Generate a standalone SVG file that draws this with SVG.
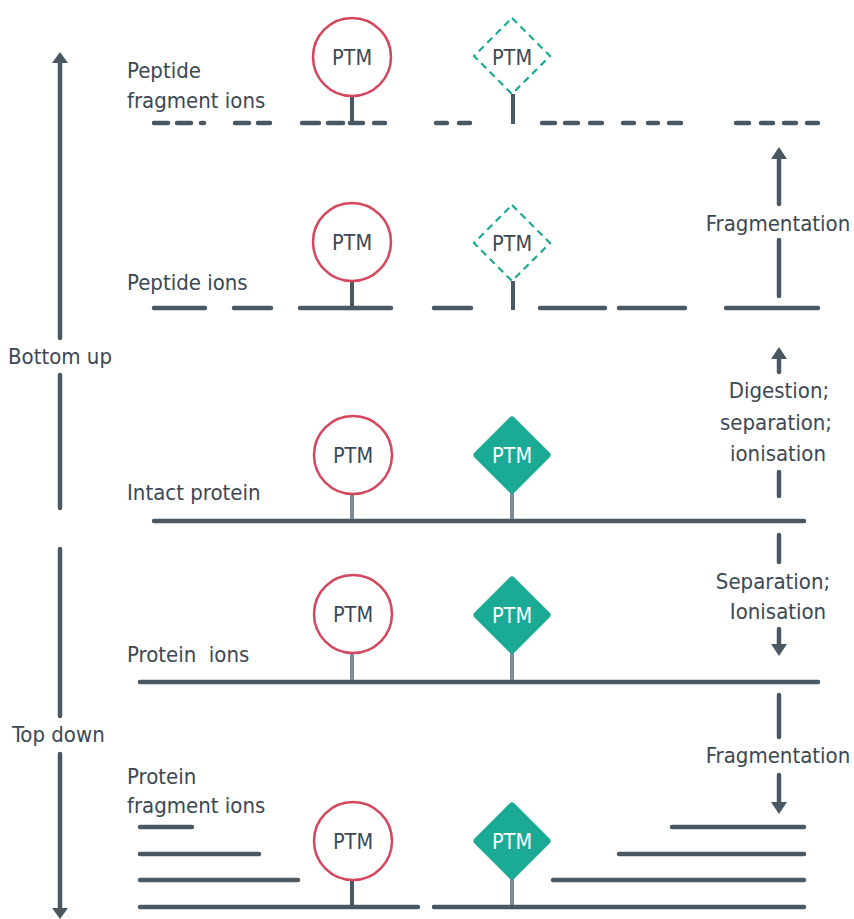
<svg xmlns="http://www.w3.org/2000/svg" width="854" height="919" viewBox="0 0 854 919">
<style>
text{font-family:"DejaVu Sans Condensed","DejaVu Sans",sans-serif;font-stretch:condensed;font-size:22px;fill:#3b4853}
.lbl{text-anchor:middle}
.ln{stroke:#4a5864;stroke-width:4.5;stroke-linecap:round;fill:none}
.stem{stroke:#4a5864;stroke-width:4;fill:none}
.lstem{stroke:#7e8c9a;stroke-width:4;fill:none}
.circ{fill:#fff;stroke:#d6465c;stroke-width:2.5}
.dia{fill:#1aaa96;stroke:#1aaa96;stroke-width:7;stroke-linejoin:round}
.ddia{fill:#fff;stroke:#1aaa96;stroke-width:2.2;stroke-dasharray:7 5}
.ptm{text-anchor:middle;font-size:21.5px}
.wptm{text-anchor:middle;fill:#fff;font-size:21.5px}
.ah{fill:#4a5864}
</style>

<g id="axis">
<line class="ln" x1="60" y1="60" x2="60" y2="338"/>
<polygon class="ah" points="60,52 68,63 52,63"/>
<line class="ln" x1="60" y1="375" x2="60" y2="508"/>
<text x="8" y="364">Bottom up</text>
<line class="ln" x1="60" y1="549" x2="60" y2="716"/>
<text x="12" y="742">Top down</text>
<line class="ln" x1="60" y1="754" x2="60" y2="910"/>
<polygon class="ah" points="60,919 68,908 52,908"/>
</g>

<g id="connectors">
<line class="ln" x1="779" y1="158" x2="779" y2="204"/>
<polygon class="ah" points="779,147 787,159 771,159"/>
<line class="ln" x1="779" y1="240" x2="779" y2="296"/>
<line class="ln" x1="779" y1="357" x2="779" y2="372"/>
<polygon class="ah" points="779,347 787,359 771,359"/>
<line class="ln" x1="779" y1="472" x2="779" y2="496"/>
<line class="ln" x1="779" y1="535" x2="779" y2="562"/>
<line class="ln" x1="779" y1="629" x2="779" y2="645"/>
<polygon class="ah" points="779,656 787,644 771,644"/>
<line class="ln" x1="779" y1="695" x2="779" y2="737"/>
<line class="ln" x1="779" y1="775" x2="779" y2="803"/>
<polygon class="ah" points="779,814 787,802 771,802"/>
</g>

<g id="step-labels">
<text class="lbl" x="778" y="231">Fragmentation</text>
<text class="lbl" x="779" y="398">Digestion;</text>
<text class="lbl" x="776" y="430">separation;</text>
<text class="lbl" x="778" y="461">ionisation</text>
<text class="lbl" x="773" y="589">Separation;</text>
<text class="lbl" x="778" y="619">Ionisation</text>
<text class="lbl" x="778" y="763">Fragmentation</text>
</g>

<g id="peptide-fragment-ions">
<text x="127" y="78">Peptide</text>
<text x="127" y="108">fragment ions</text>
<line class="stem" x1="352" y1="96" x2="352" y2="123"/>
<line class="stem" x1="513" y1="94" x2="513" y2="124"/>
<path class="ln" d="M154 123H168M177 123H191M201 123H204M235 123H249M258 123H270M302 123H319M328 123H343M350 123H363M374 123H385M436 123H447M459 123H470M542 123H555M565 123H578M590 123H602M623 123H634M648 123H658M669 123H681M736 123H749M761 123H773M784 123H796M807 123H818"/>
<circle class="circ" cx="352" cy="57" r="39"/>
<text class="ptm" x="352" y="65">PTM</text>
<polygon class="ddia" points="512,18 550,56 512,94 474,56"/>
<text class="ptm" x="512" y="65">PTM</text>
</g>

<g id="peptide-ions">
<text x="127" y="290">Peptide ions</text>
<line class="stem" x1="352" y1="281" x2="352" y2="308"/>
<line class="stem" x1="513" y1="281" x2="513" y2="310"/>
<path class="ln" d="M154 308H205M234 308H271M300 308H391M434 308H471M540 308H605M619 308H685M726 308H818"/>
<circle class="circ" cx="352" cy="242" r="39"/>
<text class="ptm" x="352" y="250">PTM</text>
<polygon class="ddia" points="512,205 550,243 512,281 474,243"/>
<text class="ptm" x="512" y="251">PTM</text>
</g>

<g id="intact-protein">
<text x="127" y="500">Intact protein</text>
<line class="lstem" x1="352" y1="494" x2="352" y2="521"/>
<line class="lstem" x1="512" y1="490" x2="512" y2="521"/>
<line class="ln" x1="154" y1="521" x2="804" y2="521"/>
<circle class="circ" cx="353" cy="455" r="39"/>
<text class="ptm" x="353" y="463">PTM</text>
<polygon class="dia" points="512,420 547,455 512,490 477,455"/>
<text class="wptm" x="512" y="463">PTM</text>
</g>

<g id="protein-ions">
<text x="127" y="662" xml:space="preserve">Protein  ions</text>
<line class="lstem" x1="352" y1="653" x2="352" y2="682"/>
<line class="lstem" x1="512" y1="650" x2="512" y2="682"/>
<line class="ln" x1="140" y1="682" x2="818" y2="682"/>
<circle class="circ" cx="353" cy="614" r="39"/>
<text class="ptm" x="353" y="622">PTM</text>
<polygon class="dia" points="512,580 547,615 512,650 477,615"/>
<text class="wptm" x="512" y="623">PTM</text>
</g>

<g id="protein-fragment-ions">
<text x="127" y="784">Protein</text>
<text x="127" y="813">fragment ions</text>
<line class="stem" x1="352" y1="880" x2="352" y2="907"/>
<line class="lstem" x1="512" y1="876" x2="512" y2="907"/>
<path class="ln" d="M140 827H192M140 854H259M140 880H298M140 907H418M434 907H804M672 827H804M619 854H804M553 880H804"/>
<circle class="circ" cx="353" cy="841" r="39"/>
<text class="ptm" x="353" y="849">PTM</text>
<polygon class="dia" points="512,806 547,841 512,876 477,841"/>
<text class="wptm" x="512" y="849">PTM</text>
</g>
</svg>
